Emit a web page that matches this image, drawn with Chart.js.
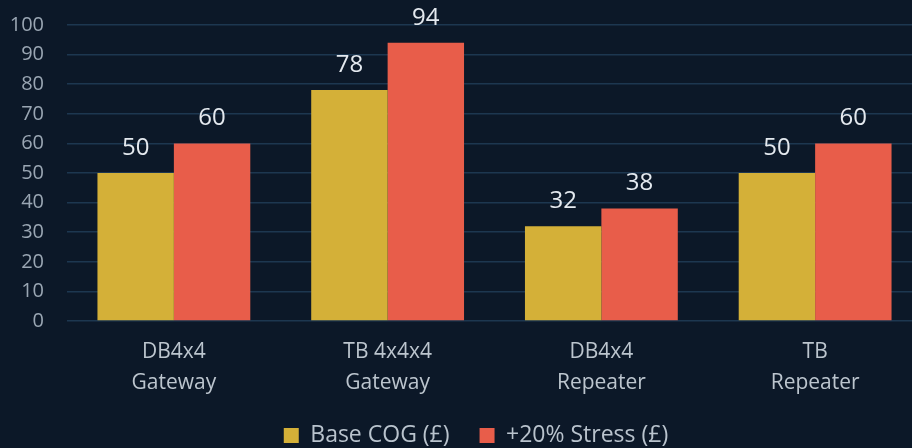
<!DOCTYPE html>
<html>
<head>
<meta charset="utf-8">
<script src="https://cdn.jsdelivr.net/npm/chart.js@4"></script>
<style>
  html, body { margin: 0; padding: 0; background: #0c1828; overflow: hidden; }
  #wrap { width: 922px; height: 458px; margin-top: -10px; }
</style>
</head>
<body>
<div id="wrap"><canvas id="myChart"></canvas></div>
<script>
const categories = [['DB4x4', 'Gateway'], ['TB 4x4x4', 'Gateway'], ['DB4x4', 'Repeater'], ['TB', 'Repeater']];
const baseCog = [50, 78, 32, 50];
const stress = [60, 94, 38, 60];
const seriesNames = ['Base COG (£)', '+20% Stress (£)'];

// draws value above each bar
const barLabels = {
    id: 'barLabels',
    afterDatasetsDraw(chart) {
        const ctx = chart.ctx;
        ctx.save();
        ctx.font = '24px "Open Sans"';
        ctx.fillStyle = '#e4e9ef';
        ctx.textAlign = 'center';
        ctx.textBaseline = 'middle';
        chart.data.datasets.forEach((ds, i) => {
            chart.getDatasetMeta(i).data.forEach((bar, j) => {
                ctx.fillText(ds.data[j], bar.x, bar.y - 25);
            });
        });
        ctx.restore();
    }
};

// nudge legend to where the original sits
const legendShift = {
    id: 'legendShift',
    afterLayout(chart) {
        const lg = chart.legend;
        lg.left += 15;
        lg.right += 15;
    }
};

const ctx = document.getElementById('myChart').getContext('2d');

new Chart(ctx, {
    type: 'bar',
    data: {
        labels: categories,
        datasets: [
            {
                label: seriesNames[0],
                data: baseCog,
                backgroundColor: '#d4b038',
                categoryPercentage: 0.715,
                barPercentage: 1
            },
            {
                label: seriesNames[1],
                data: stress,
                backgroundColor: '#e85d4a',
                categoryPercentage: 0.715,
                barPercentage: 1
            }
        ]
    },
    options: {
        responsive: true,
        maintainAspectRatio: false,
        animation: false,
        layout: { autoPadding: false, padding: { top: 25, left: 0, right: 0, bottom: 0 } },
        plugins: {
            legend: {
                position: 'bottom',
                maxHeight: 54,
                labels: {
                    color: '#b9c3cd',
                    font: { family: 'Open Sans', size: 23 },
                    boxWidth: 15,
                    boxHeight: 15,
                    padding: 30
                }
            },
            tooltip: { enabled: false }
        },
        scales: {
            x: {
                afterFit(scale) { scale.height = 73; },
                grid: { display: false },
                border: { display: false },
                ticks: {
                    color: '#bcc5ce',
                    font: { family: 'Open Sans', size: 21, lineHeight: 1.46 },
                    padding: 8
                }
            },
            y: {
                min: 0,
                max: 100,
                afterFit(scale) { scale.width = 67; },
                ticks: {
                    stepSize: 10,
                    autoSkip: false,
                    color: '#9aa6b3',
                    font: { family: 'Open Sans', size: 20 },
                    padding: 23
                },
                grid: { color: '#1d3750', lineWidth: 1.5, drawTicks: false },
                border: { display: false }
            }
        }
    },
    plugins: [barLabels, legendShift]
});
</script>
</body>
</html>
